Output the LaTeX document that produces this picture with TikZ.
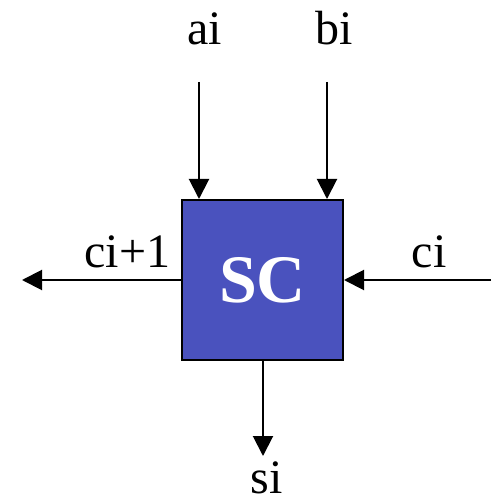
\documentclass[tikz,border=0pt]{standalone}
\usepackage{fontspec}
\setmainfont{Liberation Serif}
\usetikzlibrary{arrows.meta, positioning, calc}
\definecolor{scblue}{HTML}{4A52BE}

\begin{document}
\begin{tikzpicture}[
  x=1pt, y=-1pt,
  >={Triangle[length=20pt, width=20pt]},
  cellbox/.style={
    draw=black, line width=2pt, fill=scblue, text=white,
    minimum width=161pt, minimum height=160pt, inner sep=0pt,
    font=\fontsize{68}{80}\selectfont\bfseries
  },
  sig/.style={inner sep=0pt, anchor=base, font=\fontsize{48}{56}\selectfont},
  arr/.style={->, line width=2pt, black},
]

\useasboundingbox (0,0) rectangle (492,502);

% Cell
\node[cellbox] (sc) at (262.5,280) {SC};

% Labels
\node[sig] (ai)  at (204.5,45)  {ai};
\node[sig] (bi)  at (334.5,45)  {bi};
\node[sig] (cio) at (127.5,267) {ci+1};
\node[sig] (ci)  at (429,267)   {ci};
\node[sig] (si)  at (267,493)   {si};

% Free ends
\coordinate (ain)  at (199,82);
\coordinate (bin)  at (327,82);
\coordinate (cin)  at (491,280);
\coordinate (cout) at (22,280);
\coordinate (sout) at (263,456);

% Inputs
\draw[arr] (ain) -- (ain |- sc.north);
\draw[arr] (bin) -- (bin |- sc.north);
\draw[arr] (cin) -- (sc.east);

% Outputs
\draw[arr] (sc.west) -- (cout);
\draw[arr] (sout |- sc.south) -- (sout);

\end{tikzpicture}
\end{document}
